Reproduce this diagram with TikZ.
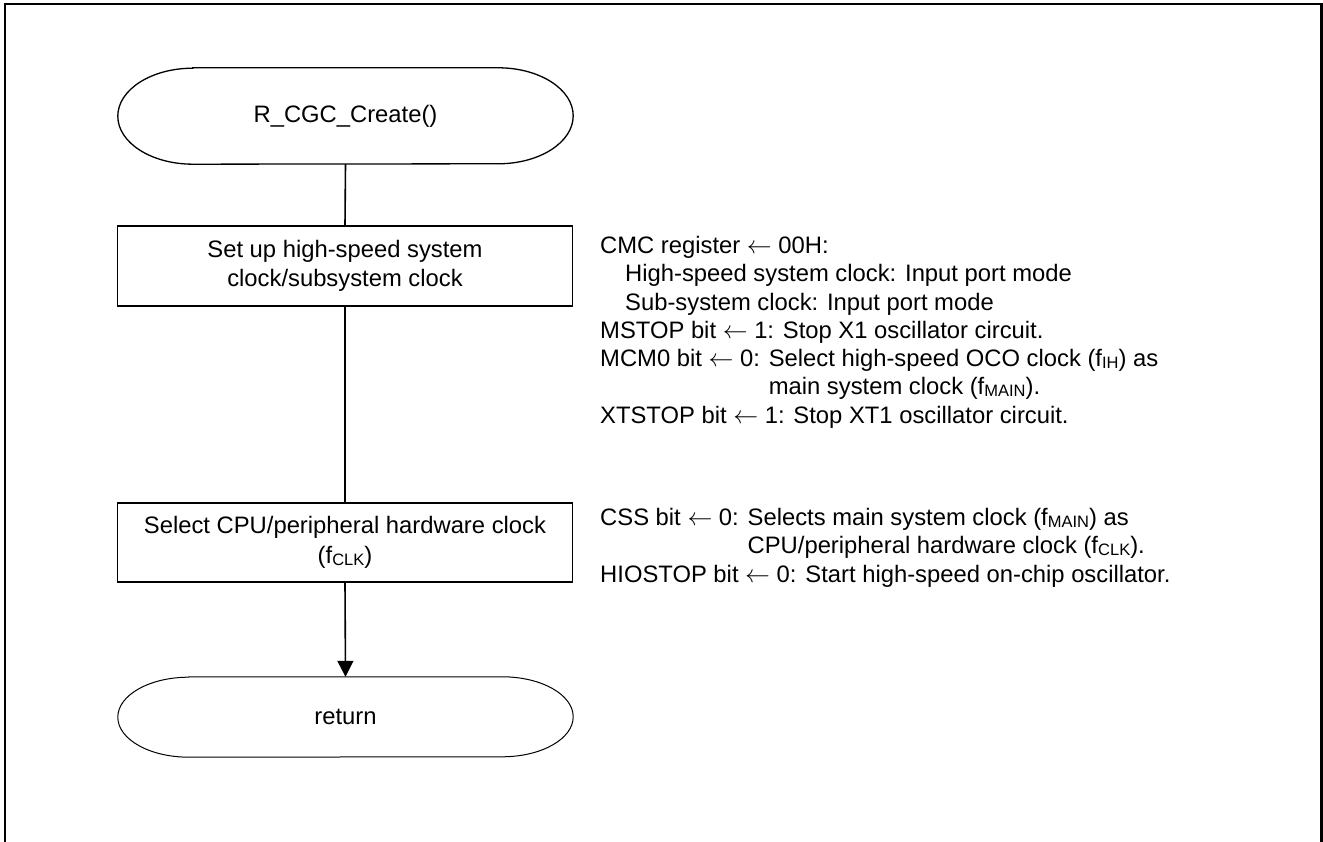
\documentclass[tikz,border=0pt]{standalone}
\usepackage{fontspec}
\setmainfont{Liberation Sans}
\usetikzlibrary{arrows.meta}
\newcommand\fsub[1]{\raisebox{-1.8pt}{\fontsize{16.5}{16.5}\selectfont #1}}
\newcommand\larr{$\leftarrow$}
\begin{document}
\begin{tikzpicture}[x=1pt,y=1pt,
  txt/.style={font=\fontsize{23.8}{28.3}\selectfont},
  procbox/.style={txt,draw,line width=1.6pt,minimum width=455pt,minimum height=80pt,align=center,inner sep=0pt},
  termnode/.style={txt,minimum width=455pt,inner sep=0pt},
  termline/.style={line width=1.3pt},
  conn/.style={line width=1.6pt},
  annot/.style={txt,anchor=base west,align=left,inner sep=0pt}]
\useasboundingbox (0,0) rectangle (1323,842);
\draw[line width=2.4pt] (5,-10) -- (5,838) -- (1321.5,838) -- (1321.5,-10);

% start terminator
\node[termnode,minimum height=96pt] (start) at (345.5,726) {R\_CGC\_Create()};
\draw[termline] ([xshift=75pt]start.north west) -- ([xshift=-75pt]start.north east)
  arc[start angle=90,end angle=-90,x radius=75pt,y radius=48pt]
  -- ([xshift=75pt]start.south west)
  arc[start angle=270,end angle=90,x radius=75pt,y radius=48pt] -- cycle;

\node[procbox] (box1) at (345,576) {Set up high-speed system\\clock/subsystem clock};
\node[procbox,minimum height=79pt] (box2) at (345,299.5) {Select CPU/peripheral hardware clock\\[1.5pt](f\fsub{CLK})};

% return terminator
\node[termnode,minimum height=80pt] (ret) at (345.5,125) {return};
\draw[line width=1pt] ([xshift=71pt]ret.north west) -- ([xshift=-71pt]ret.north east)
  arc[start angle=90,end angle=-90,x radius=71pt,y radius=40pt]
  -- ([xshift=71pt]ret.south west)
  arc[start angle=270,end angle=90,x radius=71pt,y radius=40pt] -- cycle;

\draw[conn] (start.south) -- (box1.north);
\draw[conn] (box1.south) -- (box2.north);
\draw[conn,-{Triangle[length=16pt,width=16pt]}] (box2.south) -- (ret.north);

\node[annot] (a1) at (600,418.7) {CMC register \larr\ 00H:\\
\hspace*{25pt}High-speed system clock: Input port mode\\
\hspace*{25pt}Sub-system clock: Input port mode\\
MSTOP bit \larr\ 1: Stop X1 oscillator circuit.\\
MCM0 bit \larr\ 0: Select high-speed OCO clock (f\fsub{IH}) as\\
\hphantom{MCM0 bit \larr\ 0: }main system clock (f\fsub{MAIN}).\\
XTSTOP bit \larr\ 1: Stop XT1 oscillator circuit.};

\node[annot] (a2) at (600,259.9) {CSS bit \larr\ 0: Selects main system clock (f\fsub{MAIN}) as\\
\hphantom{CSS bit \larr\ 0: }CPU/peripheral hardware clock (f\fsub{CLK}).\\
HIOSTOP bit \larr\ 0: Start high-speed on-chip oscillator.};
\end{tikzpicture}
\end{document}
